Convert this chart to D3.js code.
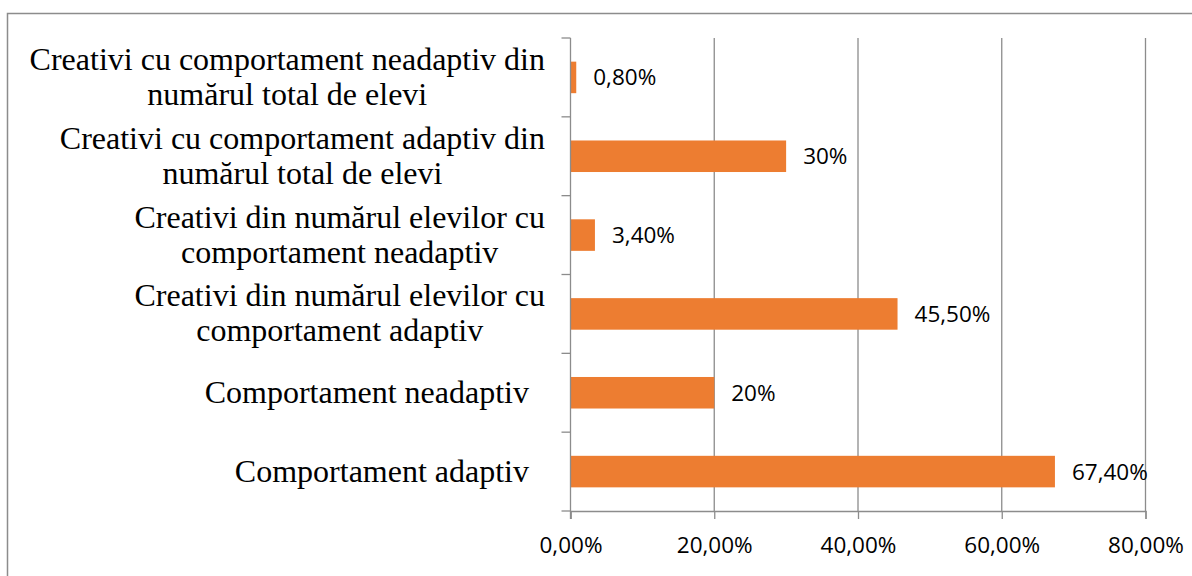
<!DOCTYPE html>
<html>
<head>
<meta charset="utf-8">
<script src="https://cdn.jsdelivr.net/npm/d3@7"></script>
<style>
  body { margin: 0; background: #fff; }
  svg { display: block; }
</style>
</head>
<body>
<svg id="chart" width="1192" height="576"></svg>
<script>
// categories top -> bottom, each one is a list of label lines
var categories = [
  ["Creativi cu comportament neadaptiv din", "numărul total de elevi"],
  ["Creativi cu comportament adaptiv din", "numărul total de elevi"],
  ["Creativi din numărul elevilor cu", "comportament neadaptiv"],
  ["Creativi din numărul elevilor cu", "comportament adaptiv"],
  ["Comportament neadaptiv  "],
  ["Comportament adaptiv  "]
];
var values = [0.8, 30, 3.4, 45.5, 20, 67.4];
var valueLabels = ["0,80%", "30%", "3,40%", "45,50%", "20%", "67,40%"];
var xTicks = [0, 20, 40, 60, 80];
var xTickLabels = ["0,00%", "20,00%", "40,00%", "60,00%", "80,00%"];

var svg = d3.select("#chart");
var margin = {top: 38, left: 570.5, right: 46.5, bottom: 65};
var width = 1192 - margin.left - margin.right,
    height = 576 - margin.top - margin.bottom;

var gray = "#8c8c8c";
var orange = "#ed7d31";

// outer chart border (runs off the right and bottom of the picture)
svg.append("rect")
  .attr("x", 7.5).attr("y", 13.5)
  .attr("width", 1200).attr("height", 600)
  .attr("fill", "none").attr("stroke", gray).attr("stroke-width", 1.5);

var x = d3.scaleLinear().domain([0, 80]).range([0, width]);
var ids = d3.range(categories.length);
var y = d3.scaleBand().domain(ids).range([0, height]).paddingInner(0.6).paddingOuter(0.3);
var yBand = d3.scaleBand().domain(ids).range([0, height]);

var g = svg.append("g").attr("transform", "translate(" + margin.left + "," + margin.top + ")");

// vertical gridlines
g.selectAll(".grid").data(xTicks.slice(1)).enter().append("line")
  .attr("x1", d => x(d)).attr("x2", d => x(d))
  .attr("y1", 0).attr("y2", height)
  .attr("stroke", gray).attr("stroke-width", 1.3);

// bars
g.selectAll(".bar").data(values).enter().append("rect")
  .attr("x", 0)
  .attr("y", (d, i) => y(i))
  .attr("width", d => x(d))
  .attr("height", y.bandwidth())
  .attr("fill", orange);

// value labels
g.selectAll(".val").data(values).enter().append("text")
  .attr("x", d => x(d) + 17)
  .attr("y", (d, i) => yBand(i) + yBand.bandwidth() / 2 + 8)
  .attr("font-family", "'Open Sans', sans-serif")
  .attr("font-size", 22.5)
  .attr("fill", "#000")
  .text((d, i) => valueLabels[i]);

// y axis line + category ticks
g.append("line").attr("x1", 0).attr("x2", 0).attr("y1", 0).attr("y2", height + 8)
  .attr("stroke", gray).attr("stroke-width", 1.3);
g.selectAll(".ytick").data(d3.range(categories.length + 1)).enter().append("line")
  .attr("x1", -9).attr("x2", 0)
  .attr("y1", d => d * yBand.step()).attr("y2", d => d * yBand.step())
  .attr("stroke", gray).attr("stroke-width", 1.3);

// x axis
var xAxis = d3.axisBottom(x).tickValues(xTicks).tickSize(8)
  .tickFormat((d, i) => xTickLabels[i]);
var ax = g.append("g").attr("transform", "translate(0," + height + ")").call(xAxis);
ax.select(".domain").attr("stroke", gray).attr("stroke-width", 1.3);
ax.selectAll(".tick line").attr("stroke", gray).attr("stroke-width", 1.3);
ax.selectAll(".tick text")
  .attr("font-family", "'Open Sans', sans-serif")
  .attr("font-size", 22.5).attr("fill", "#000")
  .attr("dy", null).attr("y", 42);

// category labels: lines centered on each other, block right edge at 545
var labelRight = 545, lineH = 35;
categories.forEach(function(lines, i) {
  var t = svg.append("text")
    .attr("font-family", "'Liberation Serif', 'Times New Roman', serif")
    .attr("font-size", 32)
    .attr("fill", "#000")
    .style("white-space", "pre");
  var spans = lines.map(function(s) { return t.append("tspan").text(s); });
  var widths = spans.map(s => s.node().getComputedTextLength());
  var blockW = d3.max(widths);
  var cy = margin.top + yBand(i) + yBand.bandwidth() / 2;
  var firstBase = cy - (lines.length - 1) * lineH / 2 + 10;
  spans.forEach(function(s, k) {
    s.attr("x", labelRight - blockW / 2).attr("text-anchor", "middle")
     .attr("y", firstBase + k * lineH);
  });
});
</script>
</body>
</html>
